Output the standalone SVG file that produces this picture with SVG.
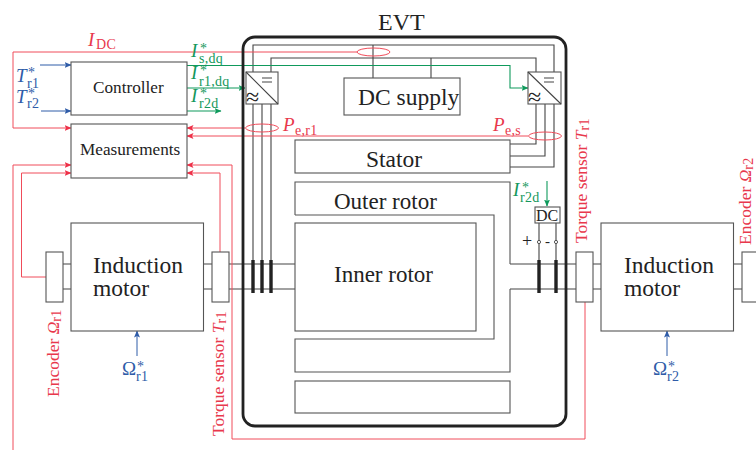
<svg xmlns="http://www.w3.org/2000/svg" width="756" height="450" viewBox="0 0 756 450">
<style>
text{font-family:"Liberation Serif","Times New Roman",serif;fill:#222}
.box{fill:#fff;stroke:#555;stroke-width:1.1}
.open{fill:none;stroke:#555;stroke-width:1.1}
.w{fill:none;stroke:#444;stroke-width:1.1}
.r{fill:none;stroke:#f04c5a;stroke-width:1}
.g{fill:none;stroke:#0f9a5c;stroke-width:1.1}
.b{fill:none;stroke:#2f5ca8;stroke-width:1}
.bar{fill:none;stroke:#222;stroke-width:3.4}
.tr{fill:#e8384c}.tg{fill:#14985c}.tb{fill:#2f5ca8}
.i{font-style:italic}
.big{font-size:23.500px}.m{font-size:17.200px}.lab{font-size:17.500px}.mi{font-size:19px}.st{font-size:14px;letter-spacing:.3px}
</style>
<defs>
<marker id="ar" markerWidth="7" markerHeight="6" refX="6.500" refY="3" orient="auto" markerUnits="userSpaceOnUse"><path d="M0 0L7 3L0 6L1.500 3Z" fill="#ee3048"/></marker>
<marker id="ag" markerWidth="7" markerHeight="6" refX="6.500" refY="3" orient="auto" markerUnits="userSpaceOnUse"><path d="M0 0L7 3L0 6L1.500 3Z" fill="#0f9a5c"/></marker>
<marker id="ab" markerWidth="7" markerHeight="6" refX="6.500" refY="3" orient="auto" markerUnits="userSpaceOnUse"><path d="M0 0L7 3L0 6L1.500 3Z" fill="#2f5ca8"/></marker>
</defs>
<g id="connectors">
<path class="w" d="M253 260V45H554V167H510"/>
<path class="w" d="M271 260V58H536V144H510"/>
<path class="w" d="M262 260V104M545 104V156H510"/>
<path class="w" d="M373 45V78M431 58V78"/>
<path class="w" d="M63 264H71M63 289H71M203 264H212M203 289H212M228 264H295M228 289H295"/>
<path class="w" d="M592 264H601M592 289H601M733 264H742M733 289H742"/>
<path class="w" d="M510 264H576M510 289H576"/>
<path class="w" d="M539 223V260M556 223V260"/>
<path class="bar" d="M253 260V293M262 260V293M271 260V293"/>
<path class="bar" d="M539 260V293M556 260V293"/>
<circle cx="539" cy="242" r="1.600" fill="#fff" stroke="#333" stroke-width=".8"/>
<circle cx="556" cy="242" r="1.600" fill="#fff" stroke="#333" stroke-width=".8"/>
<path class="g" d="M187 65.500H510V88H528" marker-end="url(#ag)"/>
<path class="g" d="M187 88H245" marker-end="url(#ag)" stroke-width="1.400"/>
<path class="g" d="M187 111H221" marker-end="url(#ag)" stroke-width="1.400"/>
<path class="g" d="M547 181V206" marker-end="url(#ag)"/>
<path class="b" d="M40 65H71" marker-end="url(#ab)"/>
<path class="b" d="M41 111H71" marker-end="url(#ab)"/>
<path class="b" d="M137 356V331" marker-end="url(#ab)"/>
<path class="b" d="M667 356V331" marker-end="url(#ab)"/>
<path class="r" d="M357 52H13V128H71" marker-end="url(#ar)"/>
<path class="r" d="M245 128H187" marker-end="url(#ar)"/>
<path class="r" d="M528 136H187" marker-end="url(#ar)"/>
<path class="r" d="M13 450V165H71" marker-end="url(#ar)"/>
<path class="r" d="M46 277H21.500V173H71" marker-end="url(#ar)"/>
<path class="r" d="M585 302V439H232V165H187" marker-end="url(#ar)"/>
<path class="r" d="M220 252V173H187" marker-end="url(#ar)"/>
<ellipse class="r" cx="373.500" cy="52" rx="16.500" ry="4"/>
<ellipse class="r" cx="262" cy="128" rx="16.500" ry="4"/>
<ellipse class="r" cx="545" cy="136" rx="16.500" ry="4"/>
</g>
<g id="evt">
<rect x="243" y="37" width="323" height="389" rx="12" fill="none" stroke="#222" stroke-width="2.800"/>
<text x="378" y="30" font-size="24">EVT</text>
</g>
<g id="controller"><rect class="box" x="71" y="62" width="116" height="53"/><text class="m" x="93" y="93">Controller</text></g>
<g id="measurements"><rect class="box" x="71" y="124" width="116" height="54"/><text class="m" x="80" y="155">Measurements</text></g>
<g id="conv-left"><rect class="box" x="246" y="72" width="32" height="32"/><path class="w" d="M246 72L278 104M262 78H272M262 82H272"/><text x="246" y="105" font-size="24">≈</text></g>
<g id="conv-right"><rect class="box" x="528" y="72" width="33" height="32"/><path class="w" d="M528 72L561 104M544 78H554M544 82H554"/><text x="528" y="105" font-size="24">≈</text></g>
<g id="dc-supply"><rect class="box" x="344" y="78" width="116" height="37"/><text x="358" y="105" font-size="23.500">DC supply</text></g>
<g id="stator"><rect class="box" x="295" y="140" width="215" height="33"/><text class="big" x="366" y="167">Stator</text></g>
<g id="outer-rotor"><path class="open" d="M295 215V182H510V264M510 289V372H295V339H494V215H295"/><text x="334" y="209" font-size="23">Outer rotor</text></g>
<g id="inner-rotor"><rect class="box" x="295" y="223" width="181" height="108"/><text x="334" y="282" font-size="23">Inner rotor</text></g>
<g id="housing"><rect class="box" x="295" y="381" width="215" height="32"/></g>
<g id="dc"><rect class="box" x="535" y="207" width="25" height="16"/><text x="536" y="221" font-size="16">DC</text><text x="522" y="247" font-size="18">+</text><text x="545" y="246" font-size="15">-</text></g>
<g id="motor1"><rect class="box" x="71" y="223" width="132.500" height="108"/><text class="big" x="93" y="273">Induction</text><text class="big" x="93" y="296">motor</text></g>
<g id="motor2"><rect class="box" x="601" y="223" width="132.500" height="108"/><text class="big" x="624" y="273">Induction</text><text class="big" x="624" y="296">motor</text></g>
<g id="encoder1"><rect class="box" x="46" y="252" width="17" height="50"/></g>
<g id="torque1"><rect class="box" x="212" y="252" width="17" height="50"/></g>
<g id="torque2"><rect class="box" x="576" y="252" width="17" height="50"/></g>
<g id="encoder2"><rect class="box" x="742" y="252" width="20" height="50"/></g>
<g id="labels">
<text class="tr"><tspan class="i mi" x="88" y="46">I</tspan><tspan class="st" x="96" y="48.500" font-size="14">DC</tspan></text>
<text class="tg"><tspan class="i mi" x="191" y="57">I</tspan><tspan class="st" x="200" y="53">*</tspan><tspan class="st" x="199" y="63">s,dq</tspan></text>
<text class="tg"><tspan class="i mi" x="191" y="79">I</tspan><tspan class="st" x="200" y="75">*</tspan><tspan class="st" x="199" y="86">r1,dq</tspan></text>
<text class="tg"><tspan class="i mi" x="191" y="102">I</tspan><tspan class="st" x="200" y="98">*</tspan><tspan class="st" x="199" y="108">r2d</tspan></text>
<text class="tg"><tspan class="i mi" x="513" y="196">I</tspan><tspan class="st" x="522" y="192">*</tspan><tspan class="st" x="520" y="202">r2d</tspan></text>
<text class="tb"><tspan class="i mi" x="16" y="82">T</tspan><tspan class="st" x="28" y="77">*</tspan><tspan class="st" x="27" y="87.500">r1</tspan></text>
<text class="tb"><tspan class="i mi" x="16" y="103">T</tspan><tspan class="st" x="28" y="98">*</tspan><tspan class="st" x="27" y="107.500">r2</tspan></text>
<text class="tr"><tspan class="i mi" x="283" y="131">P</tspan><tspan class="st" x="295" y="134.500">e,r1</tspan></text>
<text class="tr"><tspan class="i mi" x="493" y="131">P</tspan><tspan class="st" x="505" y="134.500">e,s</tspan></text>
<text class="tb"><tspan class="mi" x="122" y="375">Ω</tspan><tspan class="st" x="137" y="371">*</tspan><tspan class="st" x="136" y="381">r1</tspan></text>
<text class="tb"><tspan class="mi" x="653" y="375">Ω</tspan><tspan class="st" x="668" y="371">*</tspan><tspan class="st" x="667" y="381">r2</tspan></text>
<text class="tr lab" transform="translate(59 397) rotate(-90)">Encoder <tspan class="i">Ω</tspan><tspan class="st" dy="2">r1</tspan></text>
<text class="tr lab" transform="translate(224 436) rotate(-90)">Torque sensor <tspan class="i">T</tspan><tspan class="st" dy="2">r1</tspan></text>
<text class="tr lab" transform="translate(587 243) rotate(-90)">Torque sensor <tspan class="i">T</tspan><tspan class="st" dy="2">r1</tspan></text>
<text class="tr lab" transform="translate(751 245) rotate(-90)">Encoder <tspan class="i">Ω</tspan><tspan class="st" dy="2">r2</tspan></text>
</g>
</svg>
